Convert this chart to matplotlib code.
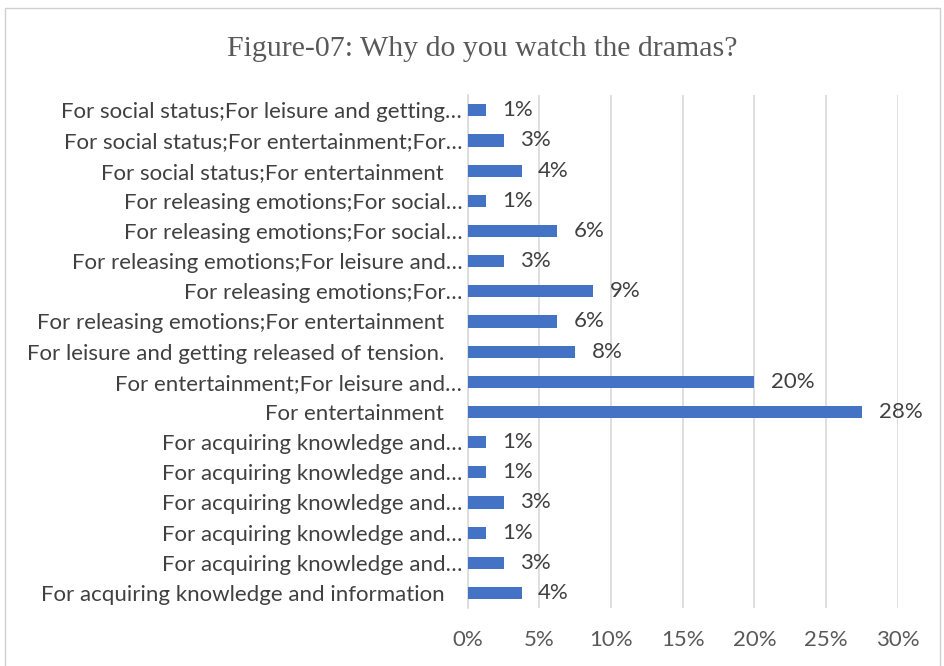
import math
import matplotlib
matplotlib.use('Agg')
import matplotlib.pyplot as plt
from matplotlib.patches import Rectangle
from matplotlib.transforms import ScaledTranslation

# answers, top to bottom as listed in the survey summary
reasons = [
    'For social status;For leisure and getting\u2026',
    'For social status;For entertainment;For\u2026',
    'For social status;For entertainment',
    'For releasing emotions;For social\u2026',
    'For releasing emotions;For social\u2026',
    'For releasing emotions;For leisure and\u2026',
    'For releasing emotions;For\u2026',
    'For releasing emotions;For entertainment',
    'For leisure and getting released of tension.',
    'For entertainment;For leisure and\u2026',
    'For entertainment',
    'For acquiring knowledge and\u2026',
    'For acquiring knowledge and\u2026',
    'For acquiring knowledge and\u2026',
    'For acquiring knowledge and\u2026',
    'For acquiring knowledge and\u2026',
    'For acquiring knowledge and information',
]
respondents = [1, 2, 3, 1, 5, 2, 7, 5, 6, 16, 22, 1, 1, 2, 1, 2, 3]
total = 80
share = [100.0 * n / total for n in respondents]
xticks = [0, 5, 10, 15, 20, 25, 30]

BAR = '#4472C4'
TXT = '#595959'
LAB = '#404040'
GRID = '#d9d9d9'

plt.rcParams['font.family'] = ['Lato', 'DejaVu Sans']

fig = plt.figure(figsize=(9.45, 6.66), dpi=100)
ax = fig.add_axes([0.495, 0.087, 0.455, 0.770])

# bottom-to-top order for barh
ypos = list(range(len(reasons)))
vals = share[::-1]
labs = reasons[::-1]
ax.barh(ypos, vals, height=0.4, color=BAR, zorder=3)
for y, v in zip(ypos, vals):
    ax.annotate(f'{math.floor(v + 0.5)}%', (v, y), xytext=(12, 0),
                textcoords='offset points', va='center', ha='left',
                fontsize=16, color=LAB)

ax.set_yticks(ypos)
ax.set_yticklabels(labs, fontsize=16, color=LAB)
ax.set_ylim(-0.5, len(reasons) - 0.5)
ax.set_xlim(0, 30)
ax.set_xticks(xticks)
ax.set_xticklabels([f'{t}%' for t in xticks], fontsize=16, color=TXT)
ax.tick_params(axis='both', length=0)
ax.tick_params(axis='x', pad=16)
ax.tick_params(axis='y', pad=4)
ax.grid(axis='x', color=GRID, lw=1.2, zorder=0)
for s in ['top', 'right', 'bottom']:
    ax.spines[s].set_visible(False)
ax.spines['left'].set_color(GRID)
ax.spines['left'].set_linewidth(1.2)

# full (untruncated) category names sit a little further from the axis
for lbl in ax.get_yticklabels():
    if not lbl.get_text().endswith('\u2026'):
        lbl.set_transform(lbl.get_transform()
                          + ScaledTranslation(-13 / 72, 0, fig.dpi_scale_trans))

fig.text(0.510, 0.927, 'Figure-07: Why do you watch the dramas?',
         ha='center', va='center', fontsize=21.5, color=TXT,
         family='Liberation Serif')

# chart area border
fig.patches.append(Rectangle((5 / 945, -0.05), 935 / 945, 1 - 8 / 666 + 0.05,
                             transform=fig.transFigure, fill=False,
                             edgecolor='#d0d0d0', lw=1.0))

fig.savefig('out.png', dpi=100)
